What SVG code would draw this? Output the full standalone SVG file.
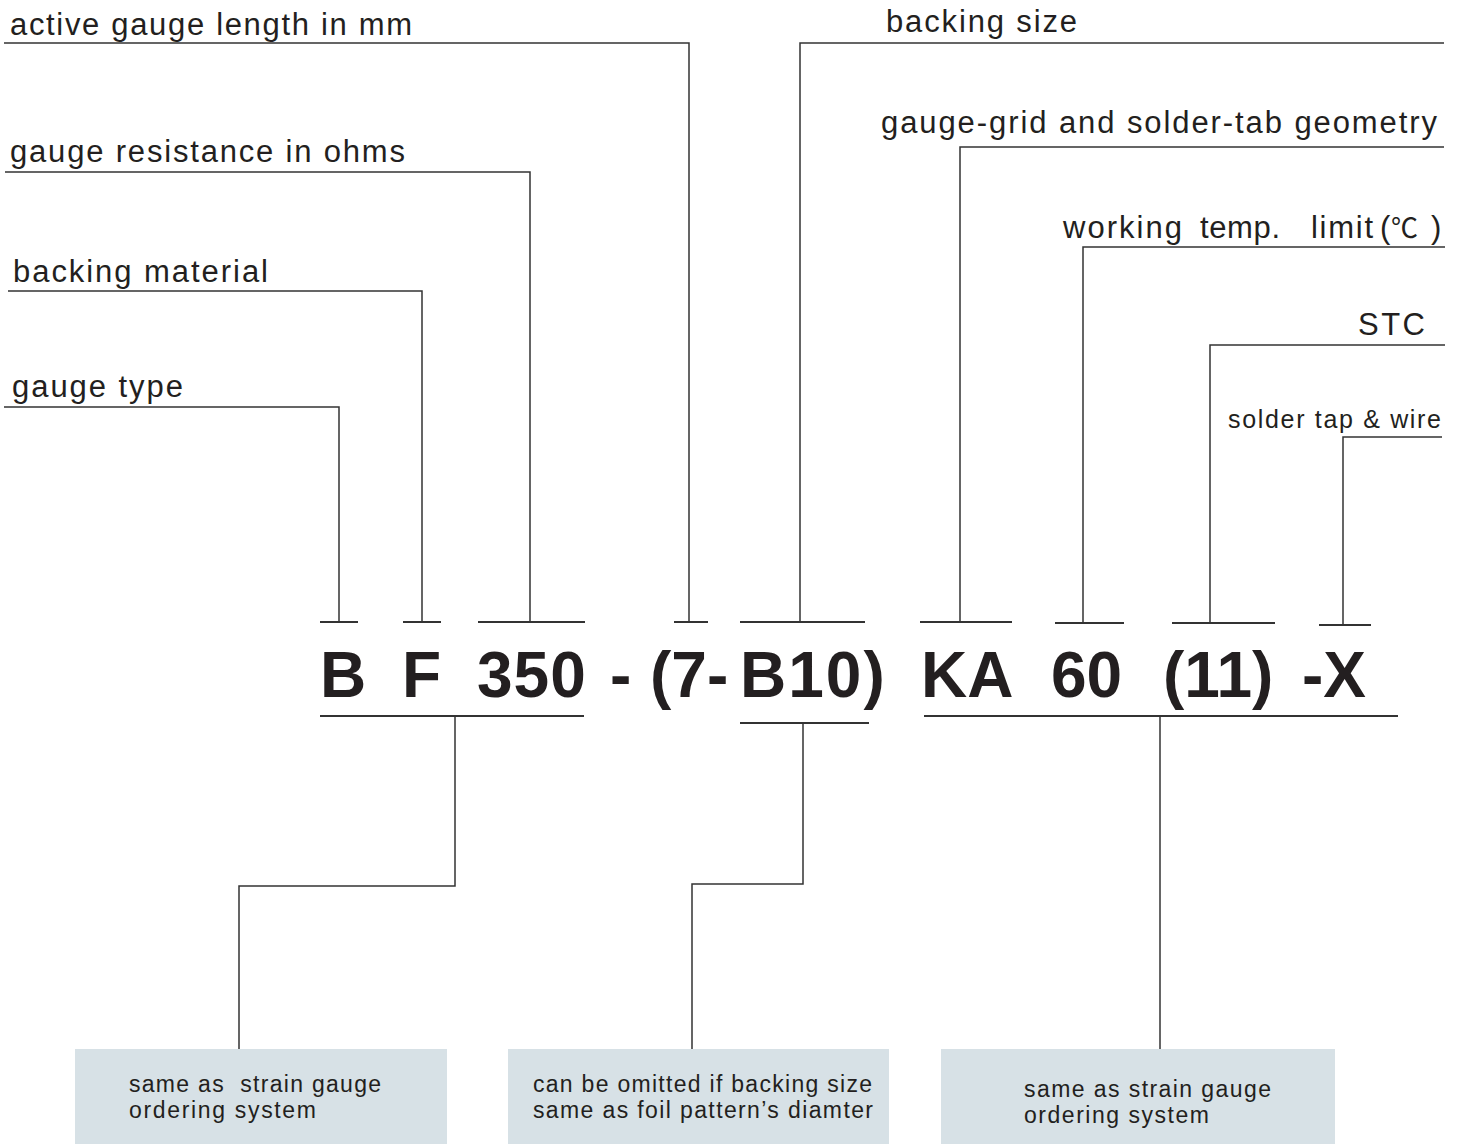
<svg xmlns="http://www.w3.org/2000/svg" width="1459" height="1144" viewBox="0 0 1459 1144">
<style>
.lbl{font-family:"Liberation Sans",Arial,sans-serif;font-size:31px;fill:#231f20}
.sm{font-family:"Liberation Sans",Arial,sans-serif;font-size:25px;fill:#231f20}
.code{font-family:"Liberation Sans",Arial,sans-serif;font-size:64px;font-weight:bold;fill:#231f20}
.note{font-family:"Liberation Sans",Arial,sans-serif;font-size:23px;fill:#231f20}
.cjk{font-family:"Noto Sans CJK SC","Liberation Sans",sans-serif;font-size:27px}
.box{fill:#d7e1e6}
.ln{fill:none;stroke:#333333;stroke-width:1.5}
.bar{fill:none;stroke:#333333;stroke-width:2}
</style>
<rect width="1459" height="1144" fill="#ffffff"/>
<g id="connectors">
<polyline class="ln" points="4,43 689,43 689,622"/>
<polyline class="ln" points="5,172 530,172 530,622"/>
<polyline class="ln" points="8,291 422,291 422,622"/>
<polyline class="ln" points="4,407 339,407 339,622"/>
<polyline class="ln" points="1444,43 800,43 800,622"/>
<polyline class="ln" points="1444,147 960,147 960,622"/>
<polyline class="ln" points="1445,247 1083,247 1083,623"/>
<polyline class="ln" points="1445,345 1210,345 1210,623"/>
<polyline class="ln" points="1442,437 1343,437 1343,625"/>
<line class="bar" x1="320" y1="622" x2="358" y2="622"/>
<line class="bar" x1="403" y1="622" x2="441" y2="622"/>
<line class="bar" x1="478" y1="622" x2="585" y2="622"/>
<line class="bar" x1="674" y1="622" x2="708" y2="622"/>
<line class="bar" x1="740" y1="622" x2="865" y2="622"/>
<line class="bar" x1="920" y1="622" x2="1012" y2="622"/>
<line class="bar" x1="1055" y1="623" x2="1124" y2="623"/>
<line class="bar" x1="1172" y1="623" x2="1275" y2="623"/>
<line class="bar" x1="1319" y1="625" x2="1371" y2="625"/>
<line class="bar" x1="320" y1="716" x2="584" y2="716"/>
<polyline class="ln" points="455,716 455,886 239,886 239,1049"/>
<line class="bar" x1="740" y1="723" x2="869" y2="723"/>
<polyline class="ln" points="803,723 803,884 692,884 692,1049"/>
<line class="bar" x1="924" y1="716" x2="1398" y2="716"/>
<line class="ln" x1="1160" y1="716" x2="1160" y2="1049"/>
</g>
<g id="label-active-length"><text class="lbl" x="10" y="35" textLength="402" lengthAdjust="spacing">active gauge length in mm</text></g>
<g id="label-resistance"><text class="lbl" x="10" y="162" textLength="395" lengthAdjust="spacing">gauge resistance in ohms</text></g>
<g id="label-backing-material"><text class="lbl" x="13" y="282" textLength="255" lengthAdjust="spacing">backing material</text></g>
<g id="label-gauge-type"><text class="lbl" x="12" y="397" textLength="171" lengthAdjust="spacing">gauge type</text></g>
<g id="label-backing-size"><text class="lbl" x="886" y="32" textLength="191" lengthAdjust="spacing">backing size</text></g>
<g id="label-geometry"><text class="lbl" x="881" y="133" textLength="556" lengthAdjust="spacing">gauge-grid and solder-tab geometry</text></g>
<g id="label-temp"><text class="lbl" x="1063" y="238"><tspan textLength="119" lengthAdjust="spacing">working</tspan><tspan x="1200" textLength="80" lengthAdjust="spacing">temp.</tspan><tspan x="1311" textLength="62" lengthAdjust="spacing">limit</tspan><tspan x="1380" font-weight="normal">(</tspan><tspan x="1391" class="cjk">℃</tspan><tspan x="1431">)</tspan></text></g>
<g id="label-stc"><text class="lbl" x="1358" y="335" textLength="67" lengthAdjust="spacing">STC</text></g>
<g id="label-solder"><text class="sm" x="1228" y="428" textLength="213" lengthAdjust="spacing">solder tap &amp; wire</text></g>
<g id="code">
<text class="code" x="320" y="697">B</text>
<text class="code" x="402" y="697">F</text>
<text class="code" x="477" y="697" letter-spacing="1">350</text>
<text class="code" x="610" y="697">-</text>
<text class="code" x="650" y="697">(7-</text>
<text class="code" x="740" y="697" letter-spacing="2">B10)</text>
<text class="code" x="921" y="697">KA</text>
<text class="code" x="1051" y="697">60</text>
<text class="code" x="1163" y="697">(11)</text>
<text class="code" x="1302" y="697">-X</text>
</g>
<g id="note-1"><rect class="box" x="75" y="1049" width="372" height="95"/><text class="note" x="129" y="1092" textLength="252" lengthAdjust="spacing" xml:space="preserve">same as  strain gauge</text><text class="note" x="129" y="1118" textLength="187" lengthAdjust="spacing">ordering system</text></g>
<g id="note-2"><rect class="box" x="508" y="1049" width="381" height="95"/><text class="note" x="533" y="1092" textLength="339" lengthAdjust="spacing">can be omitted if backing size</text><text class="note" x="533" y="1118" textLength="340" lengthAdjust="spacing">same as foil pattern’s diamter</text></g>
<g id="note-3"><rect class="box" x="941" y="1049" width="394" height="95"/><text class="note" x="1024" y="1097" textLength="247" lengthAdjust="spacing">same as strain gauge</text><text class="note" x="1024" y="1123" textLength="185" lengthAdjust="spacing">ordering system</text></g>
</svg>
